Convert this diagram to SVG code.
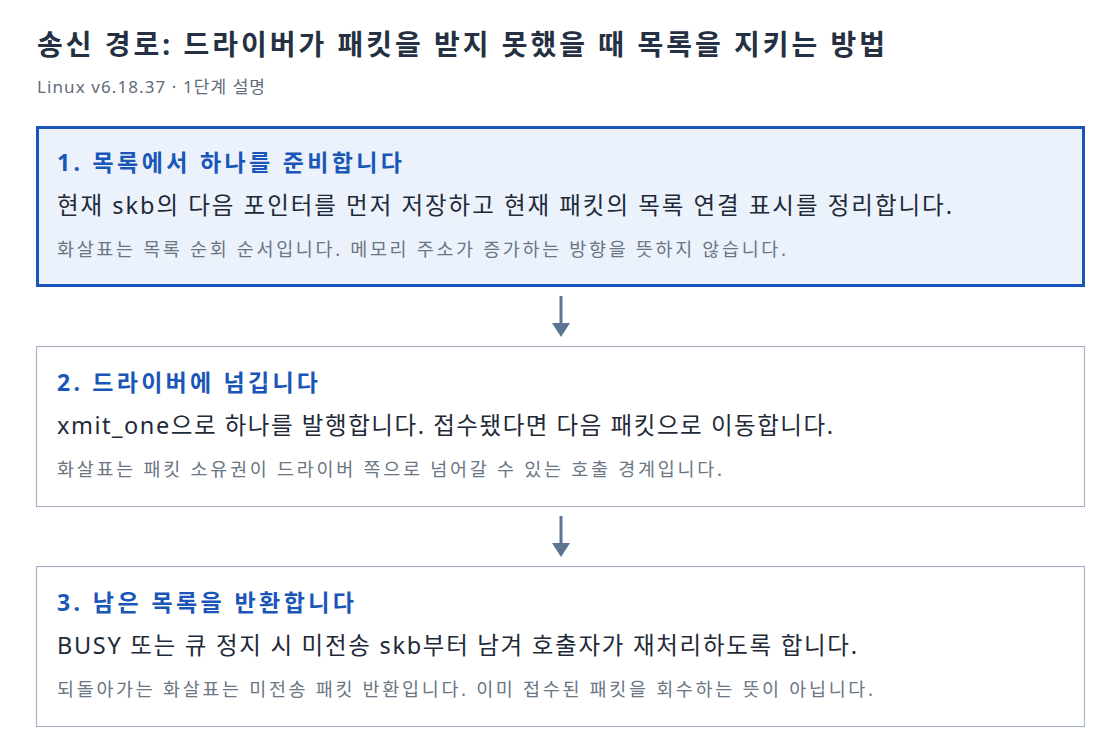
<svg xmlns="http://www.w3.org/2000/svg" width="1120" height="754" viewBox="0 0 1120 754">
<style>
text{font-family:"Noto Sans","Noto Sans CJK KR",sans-serif}
.title{font-size:28px;font-weight:700;fill:#253142}
.sub{font-size:17px;fill:#5f6b7b}
.h{font-size:23px;font-weight:700;fill:#1a56b8}
.b{font-size:23.5px;fill:#1f2a38}
.n{font-size:18.5px;fill:#6b7684}
.box{fill:#ffffff;stroke:#aab4c2;stroke-width:1.2}
.box.active{fill:#ebf2fc;stroke:#1a56b8;stroke-width:3}
.conn{stroke:#5b7592;stroke-width:3;fill:none}
.head{fill:#5b7592}
</style>
<rect width="1120" height="754" fill="#ffffff"/>
<text class="title" x="37" y="55" textLength="848" lengthAdjust="spacing">송신 경로: 드라이버가 패킷을 받지 못했을 때 목록을 지키는 방법</text>
<text class="sub" x="37" y="93" textLength="228" lengthAdjust="spacing">Linux v6.18.37 · 1단계 설명</text>
<g id="conns">
<line class="conn" x1="561" y1="296" x2="561" y2="326"/>
<path class="head" d="M552,323 L570,323 L561,337 z"/>
<line class="conn" x1="561" y1="516" x2="561" y2="546"/>
<path class="head" d="M552,543 L570,543 L561,557 z"/>
</g>
<g id="step1">
<rect class="box active" x="37.5" y="127.5" width="1046" height="158"/>
<text class="h" x="57" y="171" textLength="345" lengthAdjust="spacing">1. 목록에서 하나를 준비합니다</text>
<text class="b" x="57" y="214" textLength="895" lengthAdjust="spacing">현재 skb의 다음 포인터를 먼저 저장하고 현재 패킷의 목록 연결 표시를 정리합니다.</text>
<text class="n" x="57" y="256" textLength="729" lengthAdjust="spacing">화살표는 목록 순회 순서입니다. 메모리 주소가 증가하는 방향을 뜻하지 않습니다.</text>
</g>
<g id="step2">
<rect class="box" x="36.5" y="346.5" width="1048" height="160"/>
<text class="h" x="57" y="391" textLength="261" lengthAdjust="spacing">2. 드라이버에 넘깁니다</text>
<text class="b" x="57" y="434" textLength="776" lengthAdjust="spacing">xmit_one으로 하나를 발행합니다. 접수됐다면 다음 패킷으로 이동합니다.</text>
<text class="n" x="57" y="476" textLength="665" lengthAdjust="spacing">화살표는 패킷 소유권이 드라이버 쪽으로 넘어갈 수 있는 호출 경계입니다.</text>
</g>
<g id="step3">
<rect class="box" x="36.5" y="566.5" width="1048" height="160"/>
<text class="h" x="57" y="611" textLength="297" lengthAdjust="spacing">3. 남은 목록을 반환합니다</text>
<text class="b" x="57" y="654" textLength="800" lengthAdjust="spacing">BUSY 또는 큐 정지 시 미전송 skb부터 남겨 호출자가 재처리하도록 합니다.</text>
<text class="n" x="57" y="696" textLength="816" lengthAdjust="spacing">되돌아가는 화살표는 미전송 패킷 반환입니다. 이미 접수된 패킷을 회수하는 뜻이 아닙니다.</text>
</g>
</svg>
